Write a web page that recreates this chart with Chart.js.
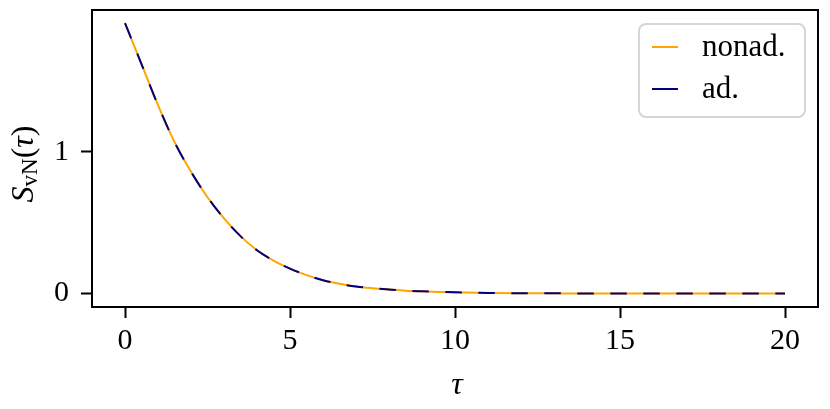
<!DOCTYPE html>
<html>
<head>
<meta charset="utf-8">
<script src="https://cdn.jsdelivr.net/npm/chart.js@4/dist/chart.umd.min.js"></script>
<style>
  html, body { margin: 0; padding: 0; background: #fff; }
  #wrap { width: 830px; height: 409px; position: relative; }
</style>
</head>
<body>
<div id="wrap"><canvas id="c" width="830" height="409"></canvas></div>
<script>
// ---- data ----
const tau = [0, 0.5, 1, 1.5, 2, 2.5, 3, 3.5, 4, 4.5, 5, 5.5, 6, 6.5, 7, 7.5, 8, 8.5, 9, 9.5, 10, 11, 12, 13, 14, 15, 16, 17, 18, 19, 20];
const sNonad = [1.91, 1.62, 1.33, 1.07, 0.86, 0.68, 0.53, 0.405, 0.305, 0.232, 0.176, 0.130, 0.094, 0.068, 0.049, 0.037, 0.028, 0.020, 0.015, 0.011, 0.008, 0.004, 0.002, 0.001, 0, 0, 0, 0, 0, 0, 0];
const sAd    = [1.91, 1.62, 1.33, 1.07, 0.86, 0.68, 0.53, 0.405, 0.305, 0.232, 0.176, 0.130, 0.094, 0.068, 0.049, 0.037, 0.028, 0.020, 0.015, 0.011, 0.008, 0.004, 0.002, 0.001, 0, 0, 0, 0, 0, 0, 0];
const seriesLabels = ['nonad.', 'ad.'];
const xTicks = [0, 5, 10, 15, 20];
const yTicks = [0, 1];

const SERIF = '"Liberation Serif", "DejaVu Serif", serif';

const framePlugin = {
  id: 'frame',
  afterDatasetsDraw(chart) {
    const { ctx, chartArea: a } = chart;
    ctx.save();
    ctx.strokeStyle = '#000';
    ctx.lineWidth = 2;
    ctx.strokeRect(a.left, a.top, a.right - a.left, a.bottom - a.top);
    ctx.restore();
  }
};

const legendPlugin = {
  id: 'customLegend',
  afterDraw(chart) {
    const { ctx, chartArea: a } = chart;
    const ds = chart.data.datasets;
    const bx = a.right - 179, by = a.top + 14, bw = 166, bh = 93, r = 7;
    ctx.save();
    ctx.beginPath();
    ctx.moveTo(bx + r, by);
    ctx.arcTo(bx + bw, by, bx + bw, by + bh, r);
    ctx.arcTo(bx + bw, by + bh, bx, by + bh, r);
    ctx.arcTo(bx, by + bh, bx, by, r);
    ctx.arcTo(bx, by, bx + bw, by, r);
    ctx.closePath();
    ctx.fillStyle = 'rgba(255,255,255,0.8)';
    ctx.fill();
    ctx.strokeStyle = '#d6d6d6';
    ctx.lineWidth = 2;
    ctx.stroke();
    ctx.font = '31px ' + SERIF;
    ctx.textBaseline = 'middle';
    ctx.fillStyle = '#000';
    ds.forEach((d, i) => {
      const y = by + 23 + i * 42;
      ctx.beginPath();
      ctx.strokeStyle = d.borderColor;
      ctx.lineWidth = 2;
      ctx.moveTo(bx + 13, y);
      ctx.lineTo(bx + 39, y);
      ctx.stroke();
      ctx.fillText(d.label, bx + 63, y + 1);
    });
    ctx.restore();
  }
};

const labelPlugin = {
  id: 'axisLabels',
  afterDraw(chart) {
    const { ctx, chartArea: a } = chart;
    ctx.save();
    ctx.fillStyle = '#000';
    // x label
    ctx.font = 'italic 32px ' + SERIF;
    ctx.textAlign = 'center';
    ctx.textBaseline = 'alphabetic';
    ctx.fillText('τ', 457, 394);
    // y label: S_vN(τ)
    const parts = [
      { t: 'S', f: 'italic 32px ' + SERIF, dy: 0 },
      { t: 'vN', f: '23px ' + SERIF, dy: 4 },
      { t: '(', f: '32px ' + SERIF, dy: 0 },
      { t: 'τ', f: 'italic 32px ' + SERIF, dy: 0 },
      { t: ')', f: '32px ' + SERIF, dy: 0 }
    ];
    let total = 0;
    parts.forEach(p => { ctx.font = p.f; p.w = ctx.measureText(p.t).width; total += p.w; });
    ctx.translate(33, 164);
    ctx.rotate(-Math.PI / 2);
    ctx.textAlign = 'left';
    let x = -total / 2;
    parts.forEach(p => { ctx.font = p.f; ctx.fillText(p.t, x, p.dy); x += p.w; });
    ctx.restore();
  }
};

function noPad(s) { s.paddingTop = 0; s.paddingBottom = 0; s.paddingLeft = 0; s.paddingRight = 0; }

new Chart(document.getElementById('c'), {
  type: 'line',
  data: {
    datasets: [
      {
        label: seriesLabels[0],
        data: tau.map((t, i) => ({ x: t, y: sNonad[i] })),
        borderColor: '#FFA500',
        borderWidth: 2,
        pointRadius: 0,
        fill: false,
        cubicInterpolationMode: 'monotone',
        order: 2
      },
      {
        label: seriesLabels[1],
        data: tau.map((t, i) => ({ x: t, y: sAd[i] })),
        borderColor: '#000080',
        borderWidth: 2,
        borderDash: [16.5, 16.5],
        pointRadius: 0,
        fill: false,
        cubicInterpolationMode: 'monotone',
        order: 1
      }
    ]
  },
  options: {
    responsive: false,
    animation: false,
    devicePixelRatio: 1,
    layout: { padding: { top: 10, right: 12, left: 0, bottom: 0 } },
    plugins: { legend: { display: false }, tooltip: { enabled: false } },
    scales: {
      x: {
        type: 'linear',
        min: -1, max: 21,
        afterBuildTicks: s => { s.ticks = xTicks.map(v => ({ value: v })); },
        afterFit: s => { s.height = 102; noPad(s); },
        grid: { drawOnChartArea: false, drawTicks: true, tickLength: 11, tickWidth: 2, tickColor: '#000' },
        border: { display: true, color: '#000', width: 2 },
        ticks: { color: '#000', font: { family: SERIF, size: 30 }, padding: 5, maxRotation: 0 }
      },
      y: {
        type: 'linear',
        min: -0.0955, max: 2.0025,
        afterBuildTicks: s => { s.ticks = yTicks.map(v => ({ value: v })); },
        afterFit: s => { s.width = 92; noPad(s); },
        grid: { drawOnChartArea: false, drawTicks: true, tickLength: 11, tickWidth: 2, tickColor: '#000' },
        border: { display: true, color: '#000', width: 2 },
        ticks: { color: '#000', font: { family: SERIF, size: 30 }, padding: 12 }
      }
    }
  },
  plugins: [framePlugin, legendPlugin, labelPlugin]
});
</script>
</body>
</html>
